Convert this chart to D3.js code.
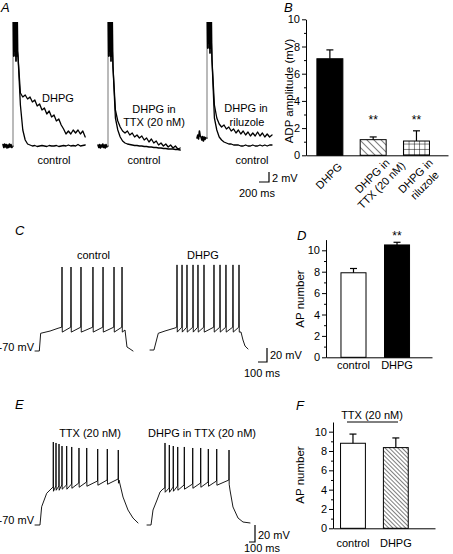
<!DOCTYPE html>
<html><head><meta charset="utf-8">
<script src="https://cdn.jsdelivr.net/npm/d3@7"></script>
<style>
body{margin:0;background:#fff;}
svg{display:block;font-family:"Liberation Sans",Arial,sans-serif;}
</style></head><body>
<svg id="c" width="453" height="554"></svg>
<script>
// ================= DATA =================
// Panel A: ADP traces (time in ms, voltage in mV relative to baseline)
const aPreT  = [0,16,32,48,64,80,96,112,128,144,160,176,200];
const aPre1  = [0.3,-0.3,0.4,-0.2,0.3,-0.4,0.2,-0.3,0.4,-0.2,0.3,-0.3,0];
const aPre2  = [0.2,-0.3,0.3,-0.4,0.2,-0.2,0.4,-0.3,0.2,-0.4,0.3,-0.2,0];
const aPre3  = [0,0.6,-0.2,1.4,0.4,0.2,-0.4,0.3,-0.6,0.2,-0.3,0.1,0];
const aStepT = 200, aTop = 30;
const aBurstT = [204,212,220,228,236,244,252,260,268,276,284,292];
const aBurst  = [30,18,30,19,30,18,30,17,30,18,30,19];
const aT0 = 300, aDt = 48;
const a1Dhpg = [18,10.6,9.8,10.2,9.4,9.8,8.8,9.2,8.0,8.4,7.2,7.6,6.4,7.0,5.8,6.2,5.0,5.4,4.2,3.4,2.4,3.0,2.4,3.2,2.6,3.2,2.4,3.0,1.8];
const a1Ctrl = [18,8.2,3.2,1.2,0.4,0.2,0,0.1,-0.1,0,0.1,0,-0.1,0.1,0,0,0.1,-0.1,0,0.1,0,0.2,0,0.1,0,0.3,0,0.1,0.2];
const a2Dhpg = [15.8,7.2,5.0,3.8,3.0,2.6,3.0,2.2,2.6,1.8,2.2,1.6,2.0,1.2,1.6,0.8,1.4,0.6,1.0,0.2,0.6,0,0.4,-0.2,0.2,-0.4,0,-0.6,-0.4];
const a2Ctrl = [15.8,5.6,3.2,1.8,1.0,0.6,0.4,0.3,0.2,0.1,0.1,0,0,-0.1,-0.1,-0.2,-0.2,-0.3,-0.3,-0.4,-0.4,-0.5,-0.5,-0.6,-0.6,-0.6,-0.7,-0.7,-0.8];
const a3Dhpg = [15.6,6.6,4.0,2.8,2.2,2.6,1.8,2.2,1.4,1.8,1.0,1.6,0.8,1.4,0.6,1.2,0.4,1.0,0.4,1.2,0.4,1.0,0.2,0.8,0.2,0.6];
const a3Ctrl = [15.6,4.0,1.6,0.2,-0.4,-0.8,-1.0,-1.2,-1.2,-1.4,-1.4,-1.4,-1.6,-1.6,-1.4,-1.6,-1.6,-1.4,-1.6,-1.6,-1.4,-1.6,-1.4,-1.6,-1.4,-1.4];

// Panel B
const bCategories = ["DHPG", "DHPG in\nTTX (20 nM)", "DHPG in\nriluzole"];
const bMeans  = [7.1, 1.15, 1.05];
const bErrors = [0.65, 0.2, 0.75];
const bSig    = ["", "**", "**"];
const bTicks  = [0,2,4,6,8,10];
const bMinor  = [1,3,5,7,9];

// Panel C: firing traces (ms, mV)
const cCtrlPre    = [[0,-70],[48,-70],[63,-44.7],[167,-41.5],[256,-37.5]];
const cCtrlSpikeT = [300,400,511,644,756,878,967];
const cCtrlPeak   = [50,50,50,50,50,50,50];
const cCtrlThr    = [-36,-36,-36,-36,-36,-36,-36];
const cCtrlPost   = [[1000,-40],[1022,-64.3],[1056,-67.1],[1089,-70]];
const cDhpgPre    = [[0,-68.6],[44,-68.6],[92,-44.7],[167,-41.4],[278,-37.1]];
const cDhpgSpikeT = [300,356,411,478,533,600,711,778,844,922,989];
const cDhpgPeak   = [53,53,53,53,53,53,53,53,53,53,53];
const cDhpgThr    = [-36,-36,-36,-36,-36,-36,-36,-36,-36,-36,-36];
const cDhpgPost   = [[1011,-42.9],[1033,-54.3],[1056,-62.9],[1089,-67.1]];
const cAhp = 7;

// Panel D
const dCategories = ["control","DHPG"];
const dMeans  = [7.9, 10.5];
const dErrors = [0.4, 0.25];
const dSig    = ["", "**"];
const apTicks = [0,2,4,6,8,10];
const apMinor = [1,3,5,7,9];

// Panel E: firing traces in TTX (ms, mV)
const eCtrlPre    = [[0,-70],[83,-70],[111,-48.5],[195,-32.7],[267,-27.6]];
const eCtrlSpikeT = [305,350,400,450,528,612,733,862,1045,1205,1388];
const eCtrlPeak   = [27.6,26.5,25.3,22.9,22.9,21.8,20.6,20.6,19.4,19.4,18.2];
const eCtrlThr    = [-25.3,-24.1,-24.1,-22.9,-22.9,-21.8,-20.6,-19.4,-18.2,-17.1,-15.9];
const eCtrlPost   = [[1400,-17.1],[1467,-37.1],[1550,-52.4],[1633,-61.8],[1717,-67.6]];
const eDhpgPre    = [[0,-70],[67,-70],[100,-52.4],[167,-40.6],[217,-31.2],[267,-27.6]];
const eDhpgSpikeT = [300,372,438,512,622,762,895,1022,1162,1367];
const eDhpgPeak   = [26.5,24.1,22.9,21.8,21.8,20.6,20.6,19.4,19.4,18.2];
const eDhpgThr    = [-26.5,-26.5,-25.3,-24.1,-22.9,-21.8,-20.6,-19.4,-18.2,-17.1];
const eDhpgPost   = [[1383,-28.8],[1433,-48.8],[1517,-61.8],[1600,-66.5],[1717,-67.6]];
const eAhp = 5;

// Panel F
const fCategories = ["control","DHPG"];
const fMeans  = [8.8, 8.35];
const fErrors = [0.95, 1.0];

// ================= DRAWING =================
const FONT = '"Liberation Sans", Arial, sans-serif';
const svg = d3.select("#c");
const defs = svg.append("defs");
defs.append("clipPath").attr("id","clipA").append("rect").attr("x",0).attr("y",22).attr("width",300).attr("height",200);

function hatch(id, size, rot){
  const p = defs.append("pattern").attr("id",id).attr("patternUnits","userSpaceOnUse")
    .attr("width",size).attr("height",size).attr("patternTransform",`rotate(${rot})`);
  p.append("rect").attr("width",size).attr("height",size).attr("fill","#fff");
  p.append("line").attr("x1",0).attr("y1",0).attr("x2",0).attr("y2",size).attr("stroke","#000").attr("stroke-width",1);
}
hatch("hatchB", 5, -45);
hatch("hatchF", 3, -45);
{
  const s = 5.3;
  const p = defs.append("pattern").attr("id","gridB").attr("patternUnits","userSpaceOnUse")
    .attr("width",s).attr("height",s).attr("x",0.5).attr("y",0.5);
  p.append("rect").attr("width",s).attr("height",s).attr("fill","#fff");
  p.append("line").attr("x1",0).attr("y1",0).attr("x2",s).attr("y2",0).attr("stroke","#000");
  p.append("line").attr("x1",0).attr("y1",0).attr("x2",0).attr("y2",s).attr("stroke","#000");
}

function text(x, y, s, anchor="middle", size=11, extra={}){
  const t = svg.append("text").attr("x",x).attr("y",y).attr("text-anchor",anchor)
    .attr("font-size",size).attr("font-family",FONT).attr("fill","#000").text(s);
  for (const k in extra) t.attr(k, extra[k]);
  return t;
}
function letter(x,y,s){ text(x,y,s,"start",13,{"font-style":"italic"}); }

function pathStyle(p, color="#000", w=1.2){
  return p.attr("fill","none").attr("stroke",color).attr("stroke-width",w)
    .attr("stroke-linejoin","round").attr("stroke-linecap","round");
}

// ---- Panel A ----
function drawA(x0, base, pre, dhpg, ctrl){
  const xs = d3.scaleLinear().domain([0,200]).range([x0, x0+10]);
  const ys = d3.scaleLinear().domain([0,2]).range([base, base-10]);
  const line = d3.line().x(d=>xs(d[0])).y(d=>ys(d[1]));
  const g = svg.append("g").attr("clip-path","url(#clipA)");
  pathStyle(g.append("path").attr("d", line(aPreT.map((t,i)=>[t,pre[i]]))), "#000", 1.6);
  pathStyle(g.append("path").attr("d", line([[aStepT,0],[aStepT,aTop]])), "#8c8c8c", 1.2);
  const burst = aBurstT.map((t,i)=>[t,aBurst[i]]);
  pathStyle(g.append("path").attr("d", line(burst.concat(ctrl.map((v,i)=>[aT0+i*aDt,v])))), "#000", 1.3);
  pathStyle(g.append("path").attr("d", line(burst.concat(dhpg.map((v,i)=>[aT0+i*aDt,v])))), "#000", 1.3);
  return {xs, ys};
}
drawA(3, 146, aPre1, a1Dhpg, a1Ctrl);
drawA(98, 146, aPre2, a2Dhpg, a2Ctrl);
drawA(197, 138, aPre3, a3Dhpg, a3Ctrl);
letter(1, 12, "A");
text(58, 102, "DHPG");
text(154, 113, "DHPG in");
text(154, 126, "TTX (20 nM)");
text(246, 112, "DHPG in");
text(247, 126, "riluzole");
text(54, 164, "control");
text(144, 164, "control");
text(252, 164, "control");
// A scale bar: 200 ms / 2 mV
{
  const sx = d3.scaleLinear().domain([0,200]).range([259,269]);
  const sy = d3.scaleLinear().domain([0,2]).range([182,172]);
  pathStyle(svg.append("path").attr("d", d3.line()([[sx(0),sy(0)],[sx(200),sy(0)],[sx(200),sy(2)]])), "#000", 1.2).attr("stroke-linecap","butt").attr("stroke-linejoin","miter");
  text(272, 182, "2 mV", "start");
  text(257, 197, "200 ms");
}

// ---- spiking traces (C, E) ----
function buildSpiking(pre, spikeT, peaks, thr, ahp, post){
  const pts = pre.slice();
  spikeT.forEach((t,i)=>{ pts.push([t-3,thr[i]],[t,peaks[i]],[t+3,thr[i]-ahp]); });
  return pts.concat(post);
}
function drawSpiking(pts, x0, pxPer100ms, yRest, pxPer20mV){
  const xs = d3.scaleLinear().domain([0,100]).range([x0, x0+pxPer100ms]);
  const ys = d3.scaleLinear().domain([-70,-50]).range([yRest, yRest-pxPer20mV]);
  pathStyle(svg.append("path").attr("d", d3.line().x(d=>xs(d[0])).y(d=>ys(d[1]))(pts)), "#000", 0.9);
}
function scaleBar(xr, yb, pxT, pxV, mvLabel, msLabel, mvPos, msPos){
  const sx = d3.scaleLinear().domain([0,100]).range([xr-pxT, xr]);
  const sy = d3.scaleLinear().domain([0,20]).range([yb, yb-pxV]);
  pathStyle(svg.append("path").attr("d", d3.line()([[sx(0),sy(0)],[sx(100),sy(0)],[sx(100),sy(20)]])), "#000", 1.2).attr("stroke-linecap","butt").attr("stroke-linejoin","miter");
  text(mvPos[0], mvPos[1], mvLabel, "start");
  text(msPos[0], msPos[1], msLabel);
}

// Panel C
letter(15, 235, "C");
drawSpiking(buildSpiking(cCtrlPre,cCtrlSpikeT,cCtrlPeak,cCtrlThr,cAhp,cCtrlPost), 35, 9, 351, 14);
drawSpiking(buildSpiking(cDhpgPre,cDhpgSpikeT,cDhpgPeak,cDhpgThr,cAhp,cDhpgPost), 150, 9, 351, 14);
text(93.5, 259, "control");
text(203, 259, "DHPG");
text(34, 351, "-70 mV", "end");
scaleBar(267, 362, 9, 14, "20 mV", "100 ms", [270,359], [262,377]);

// Panel E
letter(15, 409, "E");
drawSpiking(buildSpiking(eCtrlPre,eCtrlSpikeT,eCtrlPeak,eCtrlThr,eAhp,eCtrlPost), 35, 6, 525, 17);
drawSpiking(buildSpiking(eDhpgPre,eDhpgSpikeT,eDhpgPeak,eDhpgThr,eAhp,eDhpgPost), 147, 6, 525, 17);
text(90, 437, "TTX (20 nM)");
text(202, 437, "DHPG in TTX (20 nM)");
text(34, 524, "-70 mV", "end");
scaleBar(255, 542, 6, 17, "20 mV", "100 ms", [258,539], [262,552]);

// ---- bar charts ----
function barChart(o){
  const g = svg.append("g");
  const y = d3.scaleLinear().domain([0,o.ymax]).range([o.yBottom, o.yTop]);
  const x = d3.scaleBand().domain(o.cats).range([o.axisX, o.axisEnd])
    .paddingInner(o.pi).paddingOuter(o.po).align(o.align);
  const ya = g.append("g").attr("transform",`translate(${o.axisX},0)`)
    .call(d3.axisLeft(y).tickValues(o.ticks).tickSize(4).tickPadding(2).tickSizeOuter(0));
  ya.attr("font-size",11).attr("font-family",FONT);
  const ym = g.append("g").attr("transform",`translate(${o.axisX},0)`)
    .call(d3.axisLeft(y).tickValues(o.minor).tickSize(2).tickFormat(""));
  ym.select(".domain").remove();
  g.selectAll("rect.bar").data(o.means).join("rect").attr("class","bar")
    .attr("x",(d,i)=>x(o.cats[i])).attr("y",d=>y(d))
    .attr("width",x.bandwidth()).attr("height",d=>y(0)-y(d))
    .attr("fill",(d,i)=>o.fills[i]).attr("stroke","#000").attr("stroke-width",1);
  o.means.forEach((m,i)=>{
    const cx = x(o.cats[i]) + x.bandwidth()/2;
    const top = y(m + o.errs[i]);
    g.append("line").attr("x1",cx).attr("x2",cx).attr("y1",y(m)).attr("y2",top).attr("stroke","#000").attr("stroke-width",1.2);
    g.append("line").attr("x1",cx-3.5).attr("x2",cx+3.5).attr("y1",top).attr("y2",top).attr("stroke","#000").attr("stroke-width",1.2);
    if (o.sig && o.sig[i]) text(cx, o.sigY, o.sig[i], "middle", 12);
  });
  const xa = g.append("g").attr("transform",`translate(0,${o.yBottom})`)
    .call(d3.axisBottom(x).tickSize(0).tickSizeOuter(0).tickPadding(o.labelPad || 0).tickFormat(o.xLabels ? null : ""));
  xa.attr("font-size",11).attr("font-family",FONT);
  if (o.ylabel) {
    text(0,0,o.ylabel,"middle",o.ylabelSize||11.5,{"transform":`translate(${o.ylabelX},${o.ylabelY}) rotate(-90)`});
  }
  return {x,y,g};
}

// Panel B
letter(284, 12, "B");
const B = barChart({cats:bCategories, means:bMeans, errs:bErrors, ymax:10, yBottom:155.3, yTop:19.3,
  axisX:306, axisEnd:448, pi:0.4, po:0.34, align:0.37, ticks:bTicks, minor:bMinor,
  fills:["#000","url(#hatchB)","url(#gridB)"], sig:bSig, sigY:124, xLabels:false,
  ylabel:"ADP amplitude (mV)", ylabelX:293, ylabelY:91});
bCategories.forEach((c,i)=>{
  const cx = B.x(c) + B.x.bandwidth()/2;
  const lines = c.split("\n");
  const t = svg.append("text").attr("transform",`translate(${cx-1},176) rotate(-45)`)
    .attr("text-anchor","middle").attr("font-size",11).attr("font-family",FONT);
  lines.forEach((l,j)=>t.append("tspan").attr("x",0).attr("y",j*13).attr("dy","0.35em").text(l));
});

// Panel D
letter(297, 240, "D");
barChart({cats:dCategories, means:dMeans, errs:dErrors, ymax:11, yBottom:357.3, yTop:239.6,
  axisX:326, axisEnd:432, pi:0.425, po:0.43, align:0.4, ticks:apTicks, minor:apMinor,
  fills:["#fff","#000"], sig:dSig, sigY:240, xLabels:true, labelPad:4,
  ylabel:"AP number", ylabelX:304, ylabelY:299});

// Panel F
letter(296, 410, "F");
barChart({cats:fCategories, means:fMeans, errs:fErrors, ymax:11, yBottom:528.3, yTop:422,
  axisX:333, axisEnd:435, pi:0.42, po:0.4, align:0.22, ticks:apTicks, minor:apMinor,
  fills:["#fff","url(#hatchF)"], xLabels:true, labelPad:11,
  ylabel:"AP number", ylabelX:304, ylabelY:475});
text(372, 418.5, "TTX (20 nM)");
svg.append("line").attr("x1",347).attr("x2",398).attr("y1",422).attr("y2",422).attr("stroke","#000").attr("stroke-width",1);
</script>
</body></html>
